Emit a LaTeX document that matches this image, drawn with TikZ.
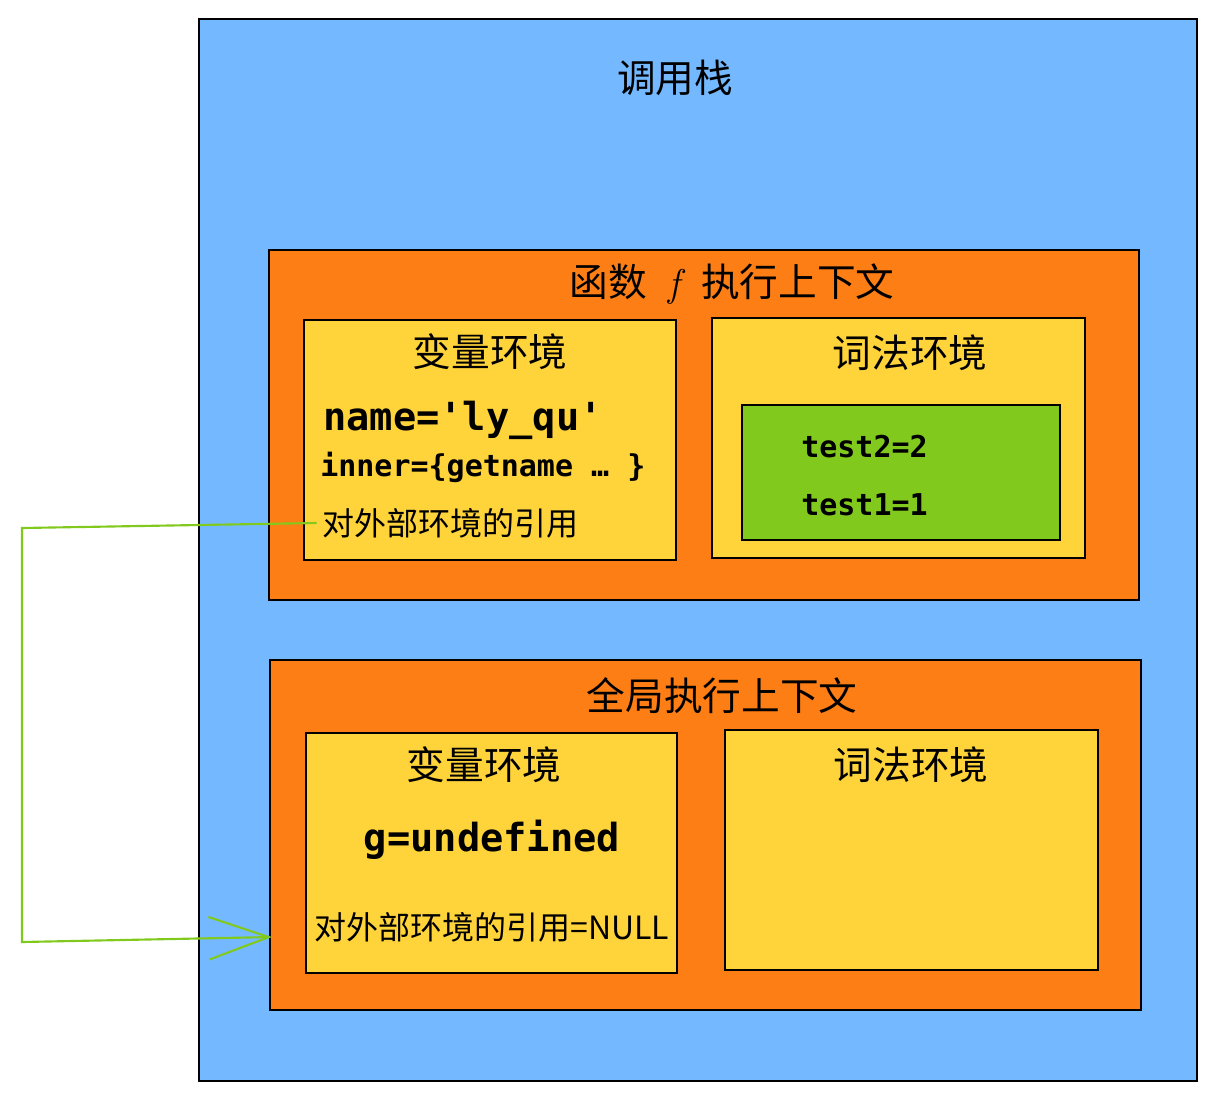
\documentclass[tikz,border=0pt]{standalone}
\usepackage{fontspec}
\newfontfamily\cjk{Noto Sans CJK SC}
\newfontfamily\mono{DejaVu Sans Mono}
\usetikzlibrary{fit,arrows.meta}
\definecolor{stackblue}{HTML}{74B9FF}
\definecolor{ctxorange}{HTML}{FD7E14}
\definecolor{envyellow}{HTML}{FFD43B}
\definecolor{recgreen}{HTML}{82C91E}
\begin{document}
\begin{tikzpicture}[x=0.75pt,y=-0.75pt,
  box/.style={draw=black, line width=1.9pt, inner sep=0pt},
  cjkbig/.style={font=\cjk\fontsize{29}{34}\selectfont, inner sep=0pt},
  cjkmid/.style={font=\cjk\fontsize{24}{28}\selectfont, inner sep=0pt},
  monobig/.style={font=\mono\bfseries\fontsize{29}{34}\selectfont, inner sep=0pt},
  monomid/.style={font=\mono\bfseries\fontsize{22.5}{27}\selectfont, inner sep=0pt},
  refline/.style={draw=recgreen, line width=1.6pt}]
\useasboundingbox (0,0) rectangle (1217,1101);
% call stack
\node[box, fill=stackblue, fit={(199,19) (1197,1081)}] (stack) {};
\node[cjkbig] (stacktitle) at (675,78) {调用栈};
% function f context
\node[box, fill=ctxorange, fit={(269,250) (1139,600)}] (ctx1) {};
\node[cjkbig] (ctx1title) at (732,284) {函数\hspace{16pt}{\normalfont\itshape f}\hspace{16pt}执行上下文};
\node[box, fill=envyellow, fit={(304,320) (676,560)}] (var1) {};
\node[cjkbig] (var1title) at (490,352) {变量环境};
\node[monobig, anchor=west] (name) at (323,420) {name='ly\_qu'};
\node[monomid, anchor=west] (inner) at (320,467) {inner=\{getname … \}};
\node[cjkmid, anchor=west] (ref1) at (322,523) {对外部环境的引用};
\node[box, fill=envyellow, fit={(712,318) (1085,558)}] (lex1) {};
\node[cjkbig] (lex1title) at (910,353) {词法环境};
\node[box, fill=recgreen, fit={(742,405) (1060,540)}] (rec) {};
\node[monomid, anchor=west] (t2) at (801,447) {test2=2};
\node[monomid, anchor=west] (t1) at (801,505) {test1=1};
% global context
\node[box, fill=ctxorange, fit={(270,660) (1141,1010)}] (ctx2) {};
\node[cjkbig] (ctx2title) at (722,696) {全局执行上下文};
\node[box, fill=envyellow, fit={(306,733) (677,973)}] (var2) {};
\node[cjkbig] (var2title) at (484,765) {变量环境};
\node[monobig] (g) at (492,840) {g=undefined};
\node[font=\cjk\fontsize{24}{29}\selectfont, inner sep=0pt, anchor=west] (ref2) at (314,927) {对外部环境的引用=NULL};
\node[box, fill=envyellow, fit={(725,730) (1098,970)}] (lex2) {};
\node[cjkbig] (lex2title) at (911,765) {词法环境};
% outer reference arrow
\coordinate (c1) at (22,528);
\coordinate (c2) at (22,942);
\coordinate (c3) at (272,937);
\draw[refline, -{Straight Barb[length=45pt,width=32pt,line width=1.6pt]}] ([xshift=-4pt]ref1.west) -- (c1) -- (c2) -- (c3);
\end{tikzpicture}
\end{document}
